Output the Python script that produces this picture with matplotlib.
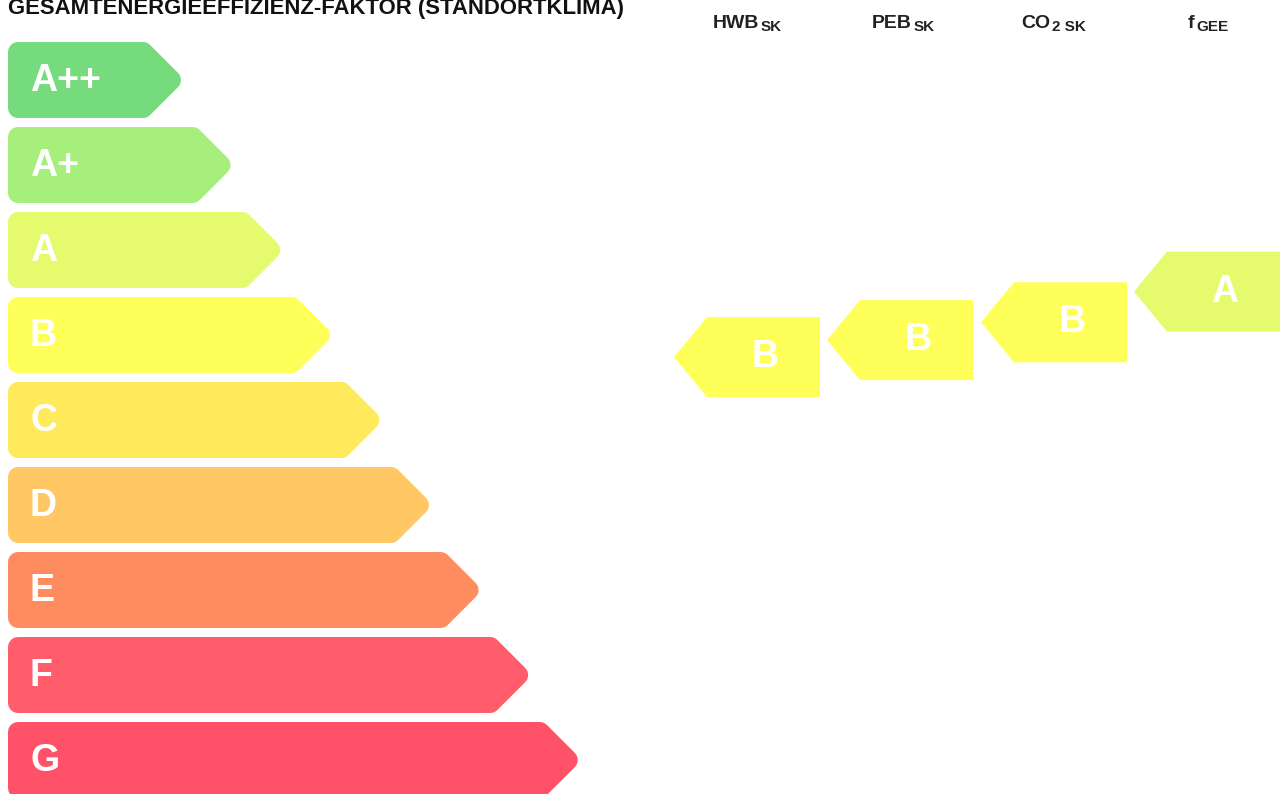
import matplotlib.pyplot as plt
from matplotlib.patches import Polygon

# energy classes of the scale (top to bottom) and their colours
classes = ["A++", "A+", "A", "B", "C", "D", "E", "F", "G"]
class_colors = ["#76db7c", "#a6ef7c", "#e6fa6e", "#ffff5a", "#ffea5c",
                "#ffc864", "#ff8c5e", "#ff5c6c", "#ff5268"]

# indicators in the right part: header, subscript, class, position on scale
indicators = ["HWB", "PEB", "CO", "f"]
subscripts = ["SK", "SK", "2 SK", "GEE"]
ratings = ["B", "B", "B", "A"]
scale_pos = [3.26, 3.06, 2.85, 2.49]

title = "GESAMTENERGIEEFFIZIENZ-FAKTOR (STANDORTKLIMA)"

plt.rcParams["font.family"] = ["Liberation Sans", "DejaVu Sans"]

W, H = 1282, 794
fig = plt.figure(figsize=(W / 100, H / 100), dpi=100)
ax = fig.add_axes([0, 0, 1, 1])
ax.set_xlim(0, W)
ax.set_ylim(H, 0)
ax.axis("off")

PX = 72 / 100  # points per pixel

# left scale
top, step, bh = 42, 85, 76
left, tip0, tip_step, point = 8, 183, 49.6, 36
r = 10
for i, (cls, col) in enumerate(zip(classes, class_colors)):
    y0 = top + i * step
    y1 = y0 + bh
    tip = tip0 + i * tip_step
    ym = (y0 + y1) / 2
    pts = [(left + r, y0 + r), (tip - point - r * 0.4, y0 + r),
           (tip - r * 1.2, ym), (tip - point - r * 0.4, y1 - r),
           (left + r, y1 - r)]
    ax.add_patch(Polygon(pts, closed=True, facecolor=col, edgecolor=col,
                         linewidth=2 * r * PX, joinstyle="round"))
    ax.text(30, ym + 1, cls, color="white", fontsize=27, fontweight="bold",
            ha="left", va="center")

# title
ax.text(8, 14, title, fontsize=15.9, fontweight="bold", color="#111111",
        ha="left", va="baseline")

# right indicator arrows
col_x = [747, 900, 1054, 1207]
half_w, adx, ah = 73, 33, 80
for cx, name, sub, rating, pos in zip(col_x, indicators, subscripts,
                                      ratings, scale_pos):
    split = cx + 12 if name != "f" else cx - 13
    if name == "CO":
        split = cx - 4
    ax.text(split, 28, name, fontsize=14, fontweight="bold", color="#222222",
            ha="right", va="baseline")
    ax.text(split + 2, 31, sub, fontsize=11, fontweight="bold",
            color="#222222", ha="left", va="baseline")

    ym = top + bh / 2 + pos * step
    col = class_colors[classes.index(rating)]
    pts = [(cx - half_w, ym), (cx - half_w + adx, ym - ah / 2),
           (cx + half_w, ym - ah / 2), (cx + half_w, ym + ah / 2),
           (cx - half_w + adx, ym + ah / 2)]
    ax.add_patch(Polygon(pts, closed=True, facecolor=col, edgecolor="none"))
    ax.text(cx + 18, ym, rating, color="white", fontsize=27,
            fontweight="bold", ha="center", va="center")

fig.savefig("out.png", dpi=100)
